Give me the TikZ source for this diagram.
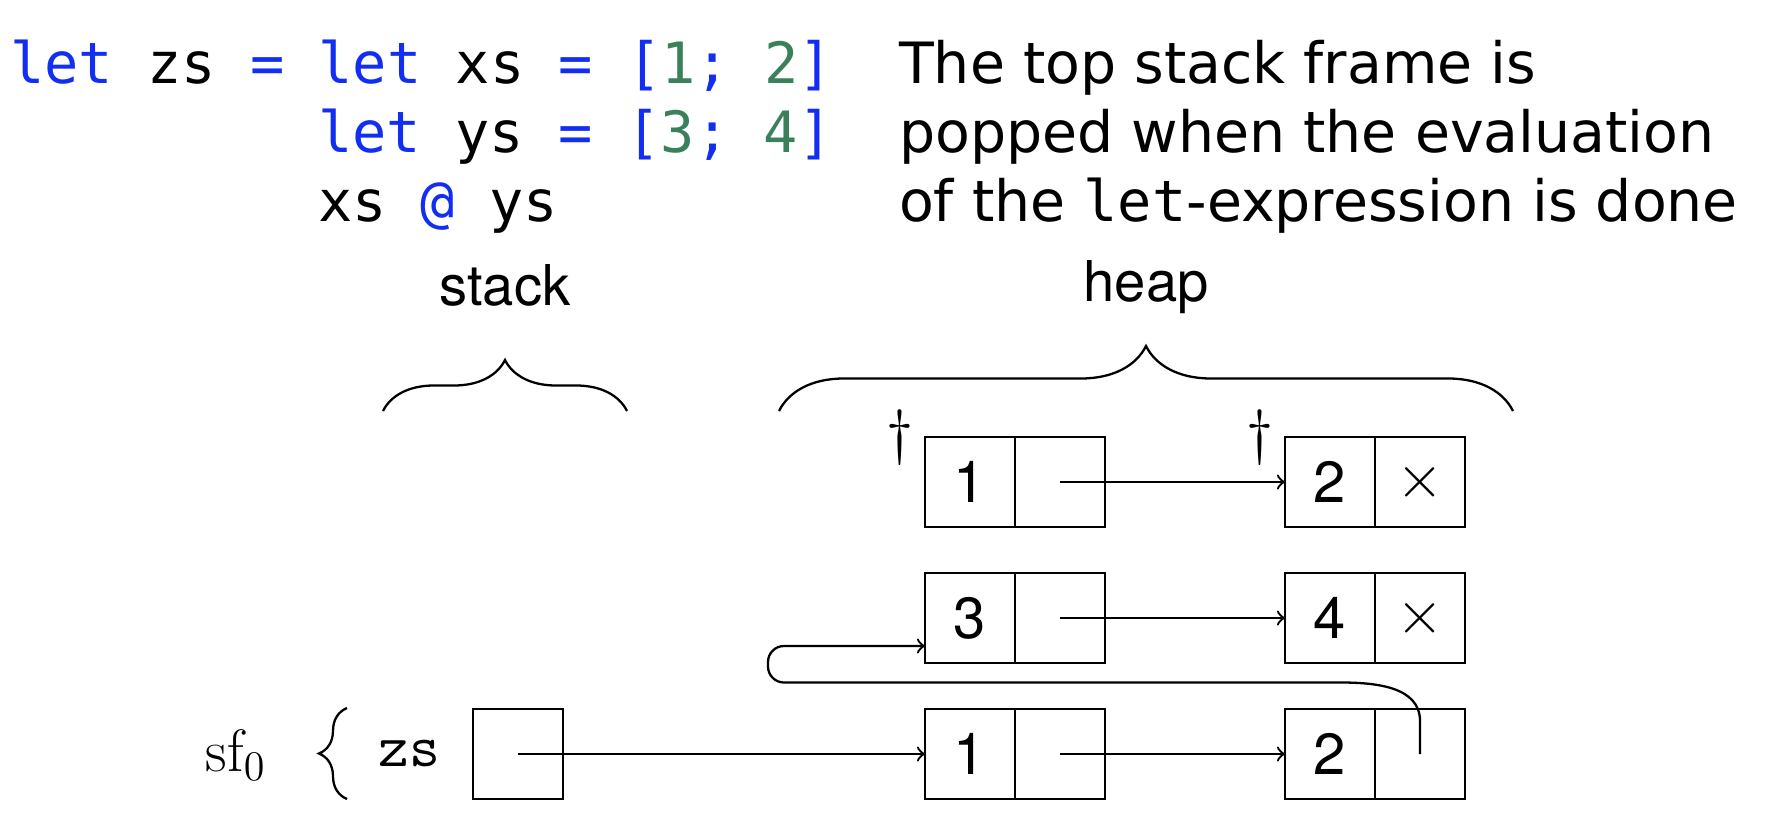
\documentclass[tikz,border=0pt]{standalone}
\usepackage{fontspec}
\newfontfamily\codefont{DejaVu Sans Mono}
\newfontfamily\notefont{DejaVu Sans}
\newfontfamily\heapfont{TeX Gyre Heros}
\usetikzlibrary{positioning,decorations.pathreplacing}
\definecolor{kwblue}{RGB}{18,46,242}
\definecolor{numgreen}{RGB}{58,128,90}
\newcommand{\kw}[1]{\textcolor{kwblue}{#1}}
\newcommand{\nm}[1]{\textcolor{numgreen}{#1}}
\tikzset{
  code_ln/.style = {anchor=base west, inner sep=0pt,
    font=\codefont\fontsize{16.2}{19.5}\selectfont},
  note_ln/.style = {anchor=base west, inner sep=0pt,
    font=\notefont\fontsize{16.2}{19.5}\selectfont},
  hp_lbl/.style = {anchor=base, inner sep=0pt,
    font=\heapfont\fontsize{16}{19}\selectfont},
  hp_cell/.style = {draw, rectangle, minimum size=0.9cm, inner sep=0pt,
    outer sep=0pt, font=\heapfont\fontsize{16.5}{19}\selectfont},
  hp_dag/.style = {inner sep=0pt, font=\fontsize{17}{20}\selectfont},
  hp_brace/.style = {decorate, decoration={brace, amplitude=#1}}
}

\begin{document}
\begin{tikzpicture}[>=to, line width=0.65pt]
\useasboundingbox (0,0) rectangle (17.66,-8.2);
% the program
\node [code_ln] (code1) at (0.09,-0.84)
  {\kw{let} zs \kw{=} \kw{let} xs \kw{=} \kw{[}\nm{1}\kw{;} \nm{2}\kw{]}};
\node [code_ln] (code2) at (3.17,-1.525)
  {\kw{let} ys \kw{=} \kw{[}\nm{3}\kw{;} \nm{4}\kw{]}};
\node [code_ln] (code3) at (3.17,-2.21) {xs \kw{@} ys};
\node [note_ln] (note1) at (8.98,-0.84) {The top stack frame is};
\node [note_ln] (note2) at (8.98,-1.525) {popped when the evaluation};
\node [note_ln] (note3) at (8.98,-2.21)
  {of the {\codefont let}-expression is done};
% stack and heap
\node [hp_lbl] (stacklbl) at (5.05,-3.06) {stack};
\node [hp_lbl] (heaplbl) at (11.46,-3.02) {heap};
\draw [hp_brace=0.51cm] (3.83,-4.11) -- (6.27,-4.11);
\draw [hp_brace=0.65cm] (7.79,-4.11) -- (15.13,-4.11);
% heap cells
\node [hp_cell] (a1) at (9.70,-4.82) {1};
\node [hp_cell, right=0pt of a1] (a1p) {};
\node [hp_cell, right=1.8cm of a1p] (a2) {2};
\node [hp_cell, right=0pt of a2] (a2p) {$\times$};
\node [hp_cell, below=0.46cm of a1] (b1) {3};
\node [hp_cell, right=0pt of b1] (b1p) {};
\node [hp_cell, below=0.46cm of a2] (b2) {4};
\node [hp_cell, right=0pt of b2] (b2p) {$\times$};
\node [hp_cell, below=0.46cm of b1] (c1) {1};
\node [hp_cell, right=0pt of c1] (c1p) {};
\node [hp_cell, below=0.46cm of b2] (c2) {2};
\node [hp_cell, right=0pt of c2] (c2p) {};
\node [hp_dag] (dag1) at ([xshift=-0.25cm]a1.north west) {$\dagger$};
\node [hp_dag] (dag2) at ([xshift=-0.25cm]a2.north west) {$\dagger$};
% stack frame
\node [hp_cell, left=3.62cm of c1] (zsbox) {};
\node [inner sep=0pt, left=0.32cm of zsbox,
  font=\ttfamily\fontsize{17}{20}\selectfont] (zsname) {zs};
\draw [hp_brace=0.28cm] (3.47,-7.99) -- (3.47,-7.08);
\node [anchor=base, inner sep=0pt, font=\fontsize{17}{20}\selectfont]
  (sf) at (2.36,-7.71) {$\mathrm{sf}_0$};
% pointers
\draw [->] (zsbox.center) -- (c1.west);
\draw [->] (a1p.center) -- (a2.west);
\draw [->] (b1p.center) -- (b2.west);
\draw [->] (c1p.center) -- (c2.west);
\draw [->] (c2p.center) -- ++(0,0.33) to[out=90,in=0] ++(-0.8,0.385)
  [rounded corners=0.16cm] -| (7.68,-6.46) -- ([yshift=-0.28cm]b1.west);
\end{tikzpicture}
\end{document}
